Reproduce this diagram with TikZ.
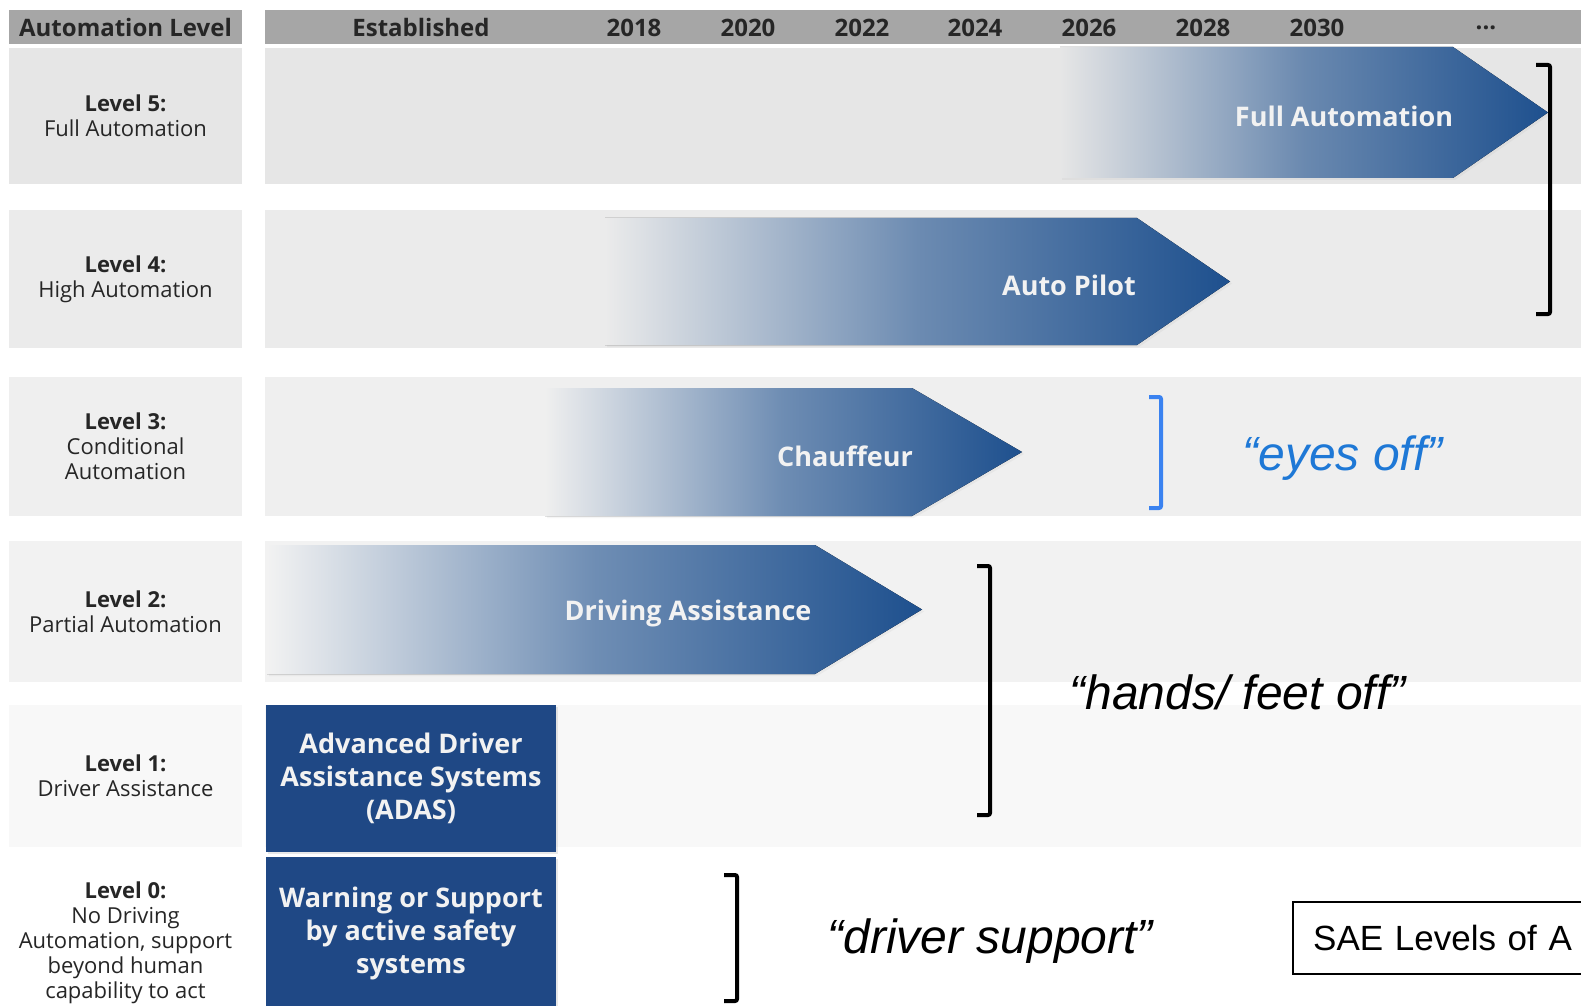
\documentclass[tikz,border=0pt]{standalone}
\usepackage{fontspec}
\setmainfont{Open Sans}
\newfontfamily\arialfont{Liberation Sans}
\usetikzlibrary{shadows}
\definecolor{H}{RGB}{166,166,166}
\definecolor{R5}{RGB}{230,230,230}
\definecolor{R4}{RGB}{235,235,235}
\definecolor{R3}{RGB}{239,239,239}
\definecolor{R2}{RGB}{242,242,242}
\definecolor{R1}{RGB}{248,248,248}
\definecolor{A}{RGB}{30,80,142}
\definecolor{B}{RGB}{31,72,133}
\definecolor{E}{RGB}{30,120,214}
\definecolor{K}{RGB}{58,130,240}
\newcommand{\levelrow}[5]{
    \fill[#2] (9,#3) rectangle (242,#4);
    \fill[#2] (265,#3) rectangle (1581,#4);
    \node[leveltext] (#1) at (125.5,{(#3+#4)/2}) {#5};
}
\newcommand{\autoarrow}[9]{
    \fill[left color=#2, right color=A, middle color=A!62!#2, softshadow=0.08]
      (#3,#6) -- (#4,#6) -- (#5,{(#6+#7)/2}) -- (#4,#7) -- (#3,#7) -- cycle;
    \node[arrowtext] (#1) at (#8,{(#6+#7)/2+4}) {#9};
}

\begin{document}
\begin{tikzpicture}[x=0.5pt,y=-0.5pt,
    headtext/.style={font=\bfseries\fontsize{12}{14}\selectfont, text=black!85, inner sep=0},
    leveltext/.style={font=\fontsize{11}{12.5}\selectfont, align=center, text=black!85, inner sep=0},
    arrowtext/.style={font=\bfseries\fontsize{13.5}{16}\selectfont, text=white!95!black, inner sep=0},
    bluebox/.style={fill=B, text=white!95!black, font=\bfseries\fontsize{13.5}{16.5}\selectfont,
      align=center, minimum width=145pt, inner sep=0, softshadow=0.18},
    quote/.style={font=\arialfont\itshape\fontsize{24}{28}\selectfont, anchor=base west, inner sep=0},
    bracket/.style={line width=2pt, rounded corners=1pt},
    softshadow/.style={drop shadow={opacity=#1, shadow xshift=1pt, shadow yshift=-1pt}}]
\path[use as bounding box, clip] (0,0) rectangle (1581,1006);
\fill[white] (0,0) rectangle (1581,1006);
\fill[H] (9,10) rectangle (242,44);
\fill[H] (265,10) rectangle (1581,44);
\node[headtext] (hlevel) at (125.5,28) {Automation Level};
\foreach \x/\yr in {421/Established,634/2018,748/2020,862/2022,975/2024,1089/2026,1203/2028,1317/2030}
    \node[headtext] (h\x) at (\x,28) {\yr};
\node[headtext] (hmore) at (1486,28) {...};
\levelrow{lv5}{R5}{48}{184}{\textbf{Level 5:}\\Full Automation}
\levelrow{lv4}{R4}{210}{348}{\textbf{Level 4:}\\High Automation}
\levelrow{lv3}{R3}{377}{516}{\textbf{Level 3:}\\Conditional\\Automation}
\levelrow{lv2}{R2}{541}{682}{\textbf{Level 2:}\\Partial Automation}
\levelrow{lv1}{R1}{705}{847}{\textbf{Level 1:}\\Driver Assistance}
\node[leveltext] (lv0) at (125.5,943) {\textbf{Level 0:}\\No Driving\\Automation, support\\beyond human\\capability to act};
\autoarrow{full}{R5}{1060}{1453}{1548}{47}{178}{1344}{Full Automation}
\autoarrow{pilot}{R4}{605}{1137}{1230}{218}{345}{1069}{Auto Pilot}
\autoarrow{chauffeur}{R3}{545}{912}{1022}{388}{516}{845}{Chauffeur}
\autoarrow{driving}{R2}{267}{815}{922}{545}{674}{688}{Driving Assistance}
\node[bluebox, minimum height=73.5pt] (adas) at (411,778.5) {Advanced Driver\\Assistance Systems\\(ADAS)};
\node[bluebox, minimum height=76pt] (warn) at (411,933) {Warning or Support\\by active safety\\systems};
\draw[bracket] (1536,65) -- (1550,65) -- (1550,314) -- (1536,314);
\draw[bracket, K] (1149,397) -- (1161,397) -- (1161,508) -- (1149,508);
\draw[bracket] (977,566) -- (990,566) -- (990,815) -- (977,815);
\draw[bracket] (724,875) -- (737,875) -- (737,1001) -- (724,1001);
\node[quote, text=E] (eyes) at (1242,470) {“eyes off”};
\node[quote] (hands) at (1069,709) {“hands/ feet off”};
\node[quote] (support) at (827,953) {“driver support”};
\node[draw, line width=1.2pt, anchor=west, minimum height=36pt, inner xsep=10pt, text width=170pt,
    align=left, font=\arialfont\fontsize{17.5}{21}\selectfont] (sae) at (1292,938) {SAE Levels of A};
\end{tikzpicture}
\end{document}
